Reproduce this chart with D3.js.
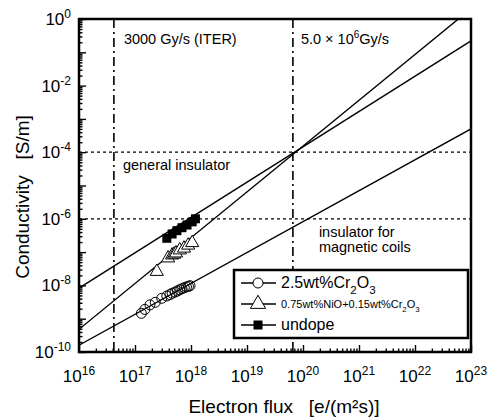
<!DOCTYPE html>
<html>
<head>
<meta charset="utf-8">
<script src="https://cdn.jsdelivr.net/npm/d3@7"></script>
<style>
  body { margin: 0; background: #fff; }
  svg { display: block; font-family: "Liberation Sans", Arial, sans-serif; }
  .pre { white-space: pre; }
</style>
</head>
<body>
<div id="chart"></div>
<script>
// data
const circleX = [1.3e17, 1.5e17, 1.85e17, 2.3e17, 3.0e17, 3.7e17, 4.2e17, 4.6e17, 5.2e17, 5.7e17, 6.3e17, 6.9e17, 7.6e17, 8.3e17, 9.0e17, 9.6e17];
const circleY = [1.45e-9, 1.9e-9, 2.6e-9, 3.1e-9, 4.1e-9, 4.8e-9, 5.3e-9, 5.8e-9, 6.3e-9, 6.8e-9, 7.4e-9, 8.0e-9, 8.5e-9, 9.0e-9, 9.4e-9, 9.8e-9];
const triX = [2.45e17, 3.9e17, 4.6e17, 5.0e17, 5.4e17, 6.3e17, 7.5e17, 8.9e17, 1.05e18];
const triY = [2.6e-8, 6.6e-8, 8.1e-8, 8.6e-8, 9.3e-8, 1.15e-7, 1.3e-7, 1.6e-7, 1.9e-7];
const sqX = [3.7e17, 4.6e17, 5.6e17, 6.9e17, 8.5e17, 1.05e18, 1.2e18];
const sqY = [2.6e-7, 3.5e-7, 4.4e-7, 5.4e-7, 6.5e-7, 8.1e-7, 1.0e-6];

// fitted lines (end points at the frame edges)
const lineCircle = [[1e16, 1.6e-10], [1e23, 5e-4]];
const lineTri = [[1e16, 4.8e-10], [1e23, 2.04]];
const lineSq = [[1e16, 8.3e-9], [1e23, 0.22]];

// reference levels
const refFlux = [4.2e16, 6.6e19];
const refCond = [1e-4, 1e-6];

const xTickExp = [16, 17, 18, 19, 20, 21, 22, 23];
const yTickExp = [0, -2, -4, -6, -8, -10];

// layout
const W = 491, H = 418;
const margin = { top: 19, right: 20, bottom: 66, left: 79 };
const iw = W - margin.left - margin.right;
const ih = H - margin.top - margin.bottom;

const svg = d3.select("#chart").append("svg").attr("width", W).attr("height", H);
const defs = svg.append("defs");
defs.append("clipPath").attr("id", "clip").append("rect").attr("width", iw).attr("height", ih);

const g = svg.append("g").attr("transform", `translate(${margin.left},${margin.top})`);

const x = d3.scaleLog().domain([1e16, 1e23]).range([0, iw]);
const y = d3.scaleLog().domain([1e-10, 1]).range([ih, 0]);

const plot = g.append("g").attr("clip-path", "url(#clip)");

// reference lines
plot.selectAll(".vref").data(refFlux).join("line")
  .attr("x1", d => x(d)).attr("x2", d => x(d)).attr("y1", 0).attr("y2", ih)
  .attr("stroke", "#000").attr("stroke-width", 1.6).attr("stroke-dasharray", "9,4,2,4");
plot.selectAll(".href").data(refCond).join("line")
  .attr("x1", 0).attr("x2", iw).attr("y1", d => y(d)).attr("y2", d => y(d))
  .attr("stroke", "#000").attr("stroke-width", 1.3).attr("stroke-dasharray", "3,3");

// fit lines
const lineGen = d3.line().x(d => x(d[0])).y(d => y(d[1]));
plot.selectAll(".fit").data([lineCircle, lineTri, lineSq]).join("path")
  .attr("d", lineGen).attr("fill", "none").attr("stroke", "#000").attr("stroke-width", 1.4);

// markers
const circles = d3.zip(circleX, circleY);
const tris = d3.zip(triX, triY);
const sqs = d3.zip(sqX, sqY);
const triPath = d3.symbol().type(d3.symbolTriangle).size(75)();

plot.selectAll(".c").data(circles).join("circle")
  .attr("cx", d => x(d[0])).attr("cy", d => y(d[1])).attr("r", 5)
  .attr("fill", "none").attr("stroke", "#000").attr("stroke-width", 1);
plot.selectAll(".t").data(tris).join("path")
  .attr("d", triPath).attr("transform", d => `translate(${x(d[0])},${y(d[1])})`)
  .attr("fill", "#fff").attr("stroke", "#000").attr("stroke-width", 1);
plot.selectAll(".s").data(sqs).join("rect")
  .attr("x", d => x(d[0]) - 4.5).attr("y", d => y(d[1]) - 4.5).attr("width", 9).attr("height", 9)
  .attr("fill", "#000");

// axes (inward ticks)
const decades = d3.range(16, 24).map(e => Math.pow(10, e));
const xMinor = [];
for (let e = 16; e < 23; e++) for (let k = 2; k <= 9; k++) xMinor.push(k * Math.pow(10, e));
const yMinor = [];
for (let e = -10; e < 0; e++) for (let k = 2; k <= 9; k++) yMinor.push(k * Math.pow(10, e));
const yDecades = d3.range(-10, 1).map(e => Math.pow(10, e));

function styleAxis(sel) {
  sel.select(".domain").remove();
  sel.selectAll("line").attr("stroke", "#000").attr("stroke-width", 1.4);
  sel.selectAll("text").remove();
}
g.append("g").attr("transform", `translate(0,${ih})`)
  .call(d3.axisBottom(x).tickValues(decades).tickSize(-7)).call(styleAxis);
g.append("g").attr("transform", `translate(0,${ih})`)
  .call(d3.axisBottom(x).tickValues(xMinor).tickSize(-3.5)).call(styleAxis);
g.append("g").call(d3.axisLeft(y).tickValues(yDecades).tickSize(-7)).call(styleAxis);
g.append("g").call(d3.axisLeft(y).tickValues(yMinor).tickSize(-3.5)).call(styleAxis);

// frame
g.append("rect").attr("width", iw).attr("height", ih)
  .attr("fill", "none").attr("stroke", "#000").attr("stroke-width", 2.5);

// tick labels
const xl = g.selectAll(".xl").data(xTickExp).join("text")
  .attr("x", d => x(Math.pow(10, d))).attr("y", ih + 30)
  .attr("text-anchor", "middle").attr("font-size", 17);
xl.append("tspan").text("10");
xl.append("tspan").attr("dy", -7).attr("font-size", 12).text(d => d);

const yl = g.selectAll(".yl").data(yTickExp).join("text")
  .attr("x", -8).attr("y", d => y(Math.pow(10, d)) + 6)
  .attr("text-anchor", "end").attr("font-size", 17);
yl.append("tspan").text("10");
yl.append("tspan").attr("dy", -7).attr("font-size", 12).text(d => d);

// axis titles
g.append("text").attr("class", "pre").attr("x", 284 - margin.left).attr("y", ih + 61)
  .attr("text-anchor", "middle").attr("font-size", 19)
  .text("Electron flux   [e/(m\u00B2s)]");
g.append("text").attr("class", "pre").attr("transform", `translate(${-50},${178}) rotate(-90)`)
  .attr("text-anchor", "middle").attr("font-size", 19)
  .text("Conductivity   [S/m]");

// annotations
const fs = 14.5;
g.append("text").attr("x", x(refFlux[0]) + 10).attr("y", 25).attr("font-size", fs).text("3000 Gy/s (ITER)");
const ann2 = g.append("text").attr("x", x(refFlux[1]) + 8).attr("y", 25).attr("font-size", fs);
ann2.append("tspan").text("5.0 \u00D7 10");
ann2.append("tspan").attr("dy", -6).attr("font-size", 10).text("6");
ann2.append("tspan").attr("dy", 6).text("Gy/s");
g.append("text").attr("x", x(refFlux[0]) + 9).attr("y", y(refCond[0]) + 18).attr("font-size", fs).text("general insulator");
g.append("text").attr("x", x(refFlux[1]) + 26).attr("y", y(refCond[1]) + 18).attr("font-size", fs).text("insulator for");
g.append("text").attr("x", x(refFlux[1]) + 26).attr("y", y(refCond[1]) + 33).attr("font-size", fs).text("magnetic coils");

// legend
const lg = g.append("g").attr("transform", `translate(${234 - margin.left},${270 - margin.top})`);
lg.append("rect").attr("width", 234).attr("height", 68)
  .attr("fill", "#fff").attr("stroke", "#000").attr("stroke-width", 2.5);
const rows = [13, 34, 55];
rows.forEach(ry => lg.append("line").attr("x1", 7).attr("x2", 42).attr("y1", ry).attr("y2", ry)
  .attr("stroke", "#000").attr("stroke-width", 1.4));
lg.append("circle").attr("cx", 24).attr("cy", rows[0]).attr("r", 5)
  .attr("fill", "#fff").attr("stroke", "#000").attr("stroke-width", 1);
lg.append("path").attr("d", d3.symbol().type(d3.symbolTriangle).size(100)())
  .attr("transform", `translate(24,${rows[1]})`)
  .attr("fill", "#fff").attr("stroke", "#000").attr("stroke-width", 1);
lg.append("rect").attr("x", 19.5).attr("y", rows[2] - 4.5).attr("width", 9).attr("height", 9).attr("fill", "#000");

function chem(sel, parts, size) {
  parts.forEach(p => {
    if (p.sub) sel.append("tspan").attr("dy", size * 0.35).attr("font-size", size * 0.72).text(p.t);
    else sel.append("tspan").attr("dy", p.back ? -size * 0.35 : 0).text(p.t);
  });
}
const t1 = lg.append("text").attr("x", 47).attr("y", rows[0] + 5).attr("font-size", 16);
chem(t1, [{ t: "2.5wt%Cr" }, { t: "2", sub: true }, { t: "O", back: true }, { t: "3", sub: true }], 16);
const t2 = lg.append("text").attr("x", 47).attr("y", rows[1] + 4).attr("font-size", 11);
chem(t2, [{ t: "0.75wt%NiO+0.15wt%Cr" }, { t: "2", sub: true }, { t: "O", back: true }, { t: "3", sub: true }], 11);
lg.append("text").attr("x", 47).attr("y", rows[2] + 5).attr("font-size", 16).text("undope");
</script>
</body>
</html>
